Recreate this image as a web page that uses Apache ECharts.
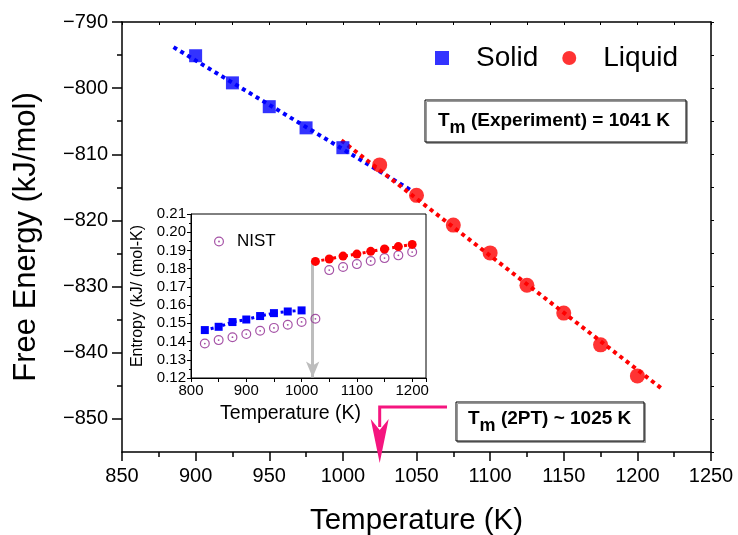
<!DOCTYPE html>
<html>
<head>
<meta charset="utf-8">
<script src="https://cdn.jsdelivr.net/npm/echarts@6/dist/echarts.min.js"></script>
<style>
  html, body { margin: 0; padding: 0; background: #fff; }
  #main { width: 738px; height: 535px; }
</style>
</head>
<body>
<div id="main"></div>
<script>
// main plot: free energy vs temperature
const solidT = [900, 925, 950, 975, 1000];
const solidG = [-795.1, -799.2, -802.8, -806.0, -809.0];
const liquidT = [1025, 1050, 1075, 1100, 1125, 1150, 1175, 1200];
const liquidG = [-811.6, -816.2, -820.7, -824.9, -829.8, -834.0, -838.8, -843.5];
// dotted fit lines (end points)
const solidFitT = [885, 1046];
const solidFitG = [-793.8, -815.4];
const liquidFitT = [999, 1217];
const liquidFitG = [-807.9, -845.5];

// inset: entropy vs temperature
const insetSolidT = [825, 850, 875, 900, 925, 950, 975, 1000];
const insetSolidS = [0.1463, 0.1481, 0.1507, 0.1521, 0.1540, 0.1556, 0.1565, 0.1571];
const insetLiquidT = [1025, 1050, 1075, 1100, 1125, 1150, 1175, 1200];
const insetLiquidS = [0.1840, 0.1853, 0.1869, 0.1880, 0.1895, 0.1908, 0.1921, 0.1933];
const nistT = [825, 850, 875, 900, 925, 950, 975, 1000, 1025, 1050, 1075, 1100, 1125, 1150, 1175, 1200];
const nistS = [0.1389, 0.1408, 0.1424, 0.1441, 0.1459, 0.1475, 0.1492, 0.1508, 0.1525,
               0.1792, 0.1809, 0.1825, 0.1842, 0.1858, 0.1873, 0.1891];
const meltArrowT = 1020;
const meltArrowS = [0.1833, 0.1203];

// tick labels
const yMajorTicks = [-850, -840, -830, -820, -810, -800, -790];
const yMinorTicks = [-845, -835, -825, -815, -805, -795];
const tm2pt = 1025;

const zip = (a, b) => a.map((v, i) => [v, b[i]]);
const FONT = 'Liberation Sans, Arial, sans-serif';
const NAVY = '#1e1e90';
const PINK = '#f5157f';
const PURPLE = '#8e2790';
const nistSymbol = 'path://M0,-10A10,10 0 1,1 0,10A10,10 0 1,1 0,-10Z' +
    'M0,-7.6A7.6,7.6 0 1,0 0,7.6A7.6,7.6 0 1,0 0,-7.6Z' +
    'M0,-1.8A1.8,1.8 0 1,1 0,1.8A1.8,1.8 0 1,1 0,-1.8Z';

const chart = echarts.init(document.getElementById('main'));

const option = {
    animation: false,
    backgroundColor: '#fff',
    textStyle: { fontFamily: FONT },
    grid: [
        { left: 122, top: 22, right: 27, bottom: 83, outerBoundsMode: 'none' },
        { left: 191, top: 214, width: 235, height: 164, show: true, outerBoundsMode: 'none',
          backgroundColor: '#fff', borderColor: '#000', borderWidth: 1, z: 5 }
    ],
    legend: [
        {
            data: ['Solid', 'Liquid'],
            left: 430, top: 39,
            itemWidth: 14, itemHeight: 14, itemGap: 24,
            textStyle: { fontSize: 28, color: '#000', fontFamily: FONT, padding: [0, 0, 0, 22] }
        },
        {
            data: ['NIST'],
            left: 209, top: 228,
            itemWidth: 10, itemHeight: 10,
            textStyle: { fontSize: 17, color: '#000', fontFamily: FONT, padding: [0, 0, 0, 8] },
            z: 10
        }
    ],
    xAxis: [
        {
            gridIndex: 0, type: 'value', position: 'bottom',
            min: 850, max: 1250, interval: 50,
            name: 'Temperature (K)', nameLocation: 'middle', nameGap: 54,
            nameTextStyle: { fontSize: 29.5, color: '#000', fontFamily: FONT },
            axisLine: { lineStyle: { color: '#000', width: 1.5 } },
            axisTick: { length: 9, lineStyle: { color: '#000', width: 1.5 } },
            minorTick: { show: true, splitNumber: 2, length: 5, lineStyle: { color: '#000', width: 1.5 } },
            axisLabel: { fontSize: 20, color: '#000', margin: 14, fontFamily: FONT, formatter: v => String(v) },
            splitLine: { show: false }
        },
        {
            gridIndex: 0, type: 'value', position: 'top',
            min: 850, max: 1250, interval: 25,
            axisLine: { lineStyle: { color: '#000', width: 1.5 } },
            axisTick: { inside: true, length: 3, lineStyle: { color: '#000' } },
            axisLabel: { show: false },
            splitLine: { show: false }
        },
        {
            gridIndex: 1, type: 'value', position: 'bottom',
            min: 800, max: 1225, interval: 50,
            name: 'Temperature (K)', nameLocation: 'middle', nameGap: 26,
            nameTextStyle: { fontSize: 19.5, color: '#000', fontFamily: FONT, padding: [0, 36, 0, 0] },
            axisLine: { lineStyle: { color: '#000', width: 1 } },
            axisTick: { length: 4, lineStyle: { color: '#000' } },
            axisLabel: {
                fontSize: 15, color: '#000', margin: 5, fontFamily: FONT,
                formatter: v => (v % 100 === 0 ? String(v) : '')
            },
            splitLine: { show: false },
            z: 6
        }
    ],
    yAxis: [
        {
            gridIndex: 0, type: 'value', position: 'left',
            min: -855, max: -790,
            name: 'Free Energy (kJ/mol)', nameLocation: 'middle', nameGap: 80,
            nameTextStyle: { fontSize: 31, color: '#000', fontFamily: FONT },
            axisLine: { lineStyle: { color: '#000', width: 1.5 } },
            axisTick: { length: 10, customValues: yMajorTicks, lineStyle: { color: '#000', width: 1.5 } },
            axisLabel: {
                fontSize: 20, color: '#000', margin: 14, fontFamily: FONT,
                customValues: yMajorTicks,
                formatter: v => String(v).replace('-', '\u2212')
            },
            splitLine: { show: false }
        },
        {
            gridIndex: 0, type: 'value', position: 'left',
            min: -855, max: -790,
            axisLine: { show: false },
            axisTick: { length: 5, customValues: yMinorTicks, lineStyle: { color: '#000', width: 1.5 } },
            axisLabel: { show: false },
            splitLine: { show: false }
        },
        {
            gridIndex: 0, type: 'value', position: 'right',
            min: -855, max: -790, interval: 5,
            axisLine: { lineStyle: { color: '#000', width: 1.5 } },
            axisTick: { length: 3, lineStyle: { color: '#000' } },
            axisLabel: { show: false },
            splitLine: { show: false }
        },
        {
            gridIndex: 1, type: 'value', position: 'left',
            min: 0.12, max: 0.21, interval: 0.01,
            name: 'Entropy (kJ/ (mol-K)', nameLocation: 'middle', nameGap: 45,
            nameTextStyle: { fontSize: 16, color: '#000', fontFamily: FONT },
            axisLine: { lineStyle: { color: '#000', width: 1 } },
            axisTick: { length: 4, lineStyle: { color: '#000' } },
            minorTick: { show: true, splitNumber: 2, length: 2, lineStyle: { color: '#000' } },
            axisLabel: {
                fontSize: 15, color: '#000', margin: 5, fontFamily: FONT,
                formatter: v => v.toFixed(2)
            },
            splitLine: { show: false },
            z: 6
        }
    ],
    series: [
        {
            name: 'solidFit', type: 'line', xAxisIndex: 0, yAxisIndex: 0,
            data: zip(solidFitT, solidFitG), showSymbol: false, silent: true,
            lineStyle: { color: '#0000ff', width: 4, type: [4, 4] }, z: 2
        },
        {
            name: 'liquidFit', type: 'line', xAxisIndex: 0, yAxisIndex: 0,
            data: zip(liquidFitT, liquidFitG), showSymbol: false, silent: true,
            lineStyle: { color: '#ff0000', width: 4, type: [4, 4] }, z: 2
        },
        {
            name: 'Solid', type: 'scatter', xAxisIndex: 0, yAxisIndex: 0,
            data: zip(solidT, solidG), symbol: 'rect', symbolSize: 13,
            itemStyle: { color: '#0000ff' }, z: 3
        },
        {
            name: 'Liquid', type: 'scatter', xAxisIndex: 0, yAxisIndex: 0,
            data: zip(liquidT, liquidG), symbol: 'circle', symbolSize: 15,
            itemStyle: { color: '#ff0000' }, z: 3
        },
        {
            name: 'NIST', type: 'scatter', xAxisIndex: 2, yAxisIndex: 3,
            data: zip(nistT, nistS), symbol: nistSymbol, symbolSize: 10,
            itemStyle: { color: PURPLE }, z: 7
        },
        {
            name: 'insetSolid', type: 'line', xAxisIndex: 2, yAxisIndex: 3,
            data: zip(insetSolidT, insetSolidS), symbol: 'rect', symbolSize: 8,
            itemStyle: { color: '#0000ff' },
            lineStyle: { color: '#0000ff', width: 3, type: [3, 3] }, z: 7
        },
        {
            name: 'insetLiquid', type: 'line', xAxisIndex: 2, yAxisIndex: 3,
            data: zip(insetLiquidT, insetLiquidS), symbol: 'circle', symbolSize: 9,
            itemStyle: { color: '#ff0000' },
            lineStyle: { color: '#ff0000', width: 3, type: [3, 3] }, z: 7,
            markLine: {
                silent: true,
                symbol: ['none', 'arrow'], symbolSize: [10, 16],
                label: { show: false },
                lineStyle: { color: '#bdbdbd', width: 3, type: 'solid' },
                data: [[{ coord: [meltArrowT, meltArrowS[0]] }, { coord: [meltArrowT, meltArrowS[1]] }]]
            }
        }
    ]
};
chart.setOption(option);

// annotation boxes and the pink arrow
const tipX = chart.convertToPixel({ xAxisIndex: 0 }, tm2pt);
const axisY = chart.convertToPixel({ yAxisIndex: 0 }, -855);

const boxStyle = { fill: '#fff', stroke: '#000', lineWidth: 1, shadowColor: '#9a9a9a', shadowOffsetX: 1.5, shadowOffsetY: 1.5, shadowBlur: 0 };
const richT = (size) => ({
    t: { fontSize: size, fontWeight: 'bold', color: NAVY, fontFamily: FONT, lineHeight: 22 },
    s: { fontSize: size - 1, fontWeight: 'bold', color: NAVY, fontFamily: FONT, lineHeight: 22, padding: [14, 0, 0, 0] }
});

chart.setOption({
    graphic: [
        { type: 'rect', x: 425, y: 100, shape: { width: 261, height: 42 }, style: boxStyle, z: 20 },
        { type: 'text', x: 438, y: 121, z: 21,
          style: { text: '{t|T}{s|m}{t| (Experiment) = 1041 K}', rich: richT(19), align: 'left', verticalAlign: 'middle' } },
        { type: 'rect', x: 456, y: 402, shape: { width: 188, height: 39 }, style: boxStyle, z: 20 },
        { type: 'text', x: 468, y: 419, z: 21,
          style: { text: '{t|T}{s|m}{t| (2PT) ~ 1025 K}', rich: richT(19), align: 'left', verticalAlign: 'middle' } },
        { type: 'polyline', z: 20,
          shape: { points: [[447, 407], [tipX, 407], [tipX, axisY - 25]] },
          style: { stroke: PINK, lineWidth: 3, fill: null } },
        { type: 'polygon', z: 20,
          shape: { points: [[tipX, axisY + 11], [tipX - 9, axisY - 33], [tipX, axisY - 22], [tipX + 9, axisY - 33]] },
          style: { fill: PINK } }
    ]
});
</script>
</body>
</html>
